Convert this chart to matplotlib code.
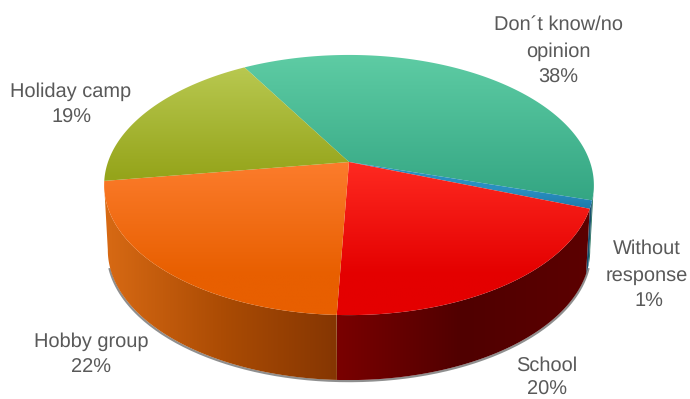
import numpy as np
import matplotlib
matplotlib.use("Agg")
import matplotlib.pyplot as plt
from matplotlib.colors import LinearSegmentedColormap
from matplotlib.patches import Polygon

plt.rcParams['font.family'] = ['Liberation Sans', 'DejaVu Sans']
plt.rcParams['text.hinting'] = 'none'
plt.rcParams['text.hinting_factor'] = 1

#Data
LABELS = ["Don´t know/no\nopinion", "Without\nresponse", "School", "Hobby group", "Holiday camp"]
VALUES = [38, 1, 20, 22, 19]

#Look of each slice, top face runs top to bottom, side runs left to right
TOP_COLORS = [("#5ecca4", "#34a683"), ("#2a8fc0", "#1c78a8"), ("#ff2b22", "#e40000"),
              ("#fc7c2c", "#e85f00"), ("#b8c850", "#95a41a")]
TOP_SPANS = [(55, 200), (190, 210), (160, 275), (162, 275), (68, 178)]
SIDE_COLORS = [("#1f6f58", "#1f6f58"), ("#17506e", "#17506e"), ("#7a0000", "#500000", "#5c0000"),
               ("#d86a14", "#ac4c04", "#853602"), ("#6f7a10", "#6f7a10")]
LABEL_POS = [(558, 38), (647, 262), (547, 366), (91, 342), (71, 92)]
VALUE_POS = [(558, 78), (649, 302), (547, 390), (91, 368), (71, 118)]

#Geometry of the tilted disc, in pixels
CX = 349.0
CY = 162.0
RX = 241.0
RY = 126.0
TILT = 0.177
DEPTH = 65.0
SHRINK = 0.985
START = -30.0
FRONT_FROM = 100.0
FRONT_TO = 260.0


def project(angle):
    # angle in degrees, clockwise from the far side of the disc
    a = np.radians(angle)
    u = np.sin(a)
    v = np.cos(a)
    w = 1 + TILT * v
    return CX + RX * u / w, CY - RY * v / w


def project_bottom(angle):
    x, y = project(angle)
    return CX + SHRINK * (x - CX), y + DEPTH


def gradient(ax, colors, extent, clip, ramp):
    cmap = LinearSegmentedColormap.from_list("g", colors)
    im = ax.imshow(ramp, cmap=cmap, vmin=0, vmax=1, extent=extent, aspect="auto",
                   interpolation="bilinear", zorder=clip.get_zorder())
    im.set_clip_path(clip)


def draw_side(ax, start, end, colors):
    # only the front part of the wall can be seen
    a = max(start, FRONT_FROM)
    b = min(end, FRONT_TO)
    if a >= b:
        return
    t = np.linspace(a, b, 120)
    tx, ty = project(t)
    bx, by = project_bottom(t)
    pts = np.column_stack([np.r_[tx, bx[::-1]], np.r_[ty, by[::-1]]])
    clip = Polygon(pts, closed=True, transform=ax.transData, fc="none", ec="none", zorder=2)
    ax.add_patch(clip)
    extent = (pts[:, 0].min(), pts[:, 0].max(), pts[:, 1].max(), pts[:, 1].min())
    gradient(ax, colors, extent, clip, np.linspace(0, 1, 256).reshape(1, -1))


def draw_top(ax, start, end, colors, span):
    t = np.linspace(start, end, 200)
    x, y = project(t)
    pts = np.column_stack([np.r_[CX, x], np.r_[CY, y]])
    clip = Polygon(pts, closed=True, transform=ax.transData, fc="none", ec="none", zorder=3)
    ax.add_patch(clip)
    # outside the span the face keeps its end colours
    y0 = pts[:, 1].min()
    y1 = pts[:, 1].max()
    rows = np.linspace(y0, y1, 256)
    ramp = np.clip((rows - span[0]) / (span[1] - span[0]), 0, 1).reshape(-1, 1)
    gradient(ax, colors, (pts[:, 0].min(), pts[:, 0].max(), y1, y0), clip, ramp)


def main():
    fig = plt.figure(figsize=(6.9, 3.99), dpi=100)
    ax = fig.add_axes([0, 0, 1, 1])

    values = np.array(VALUES, dtype=float)
    angles = START + np.r_[0, np.cumsum(values)] * 360.0 / values.sum()

    # soft dark edge under the wall
    t = np.linspace(FRONT_FROM + 8, FRONT_TO - 8, 200)
    sx, sy = project_bottom(t)
    ax.plot(sx + 0.5 * np.sign(sx - CX), sy + 1.0, color="#444444", lw=1.6, alpha=0.6, zorder=1)

    for i in range(len(VALUES)):
        draw_side(ax, angles[i], angles[i + 1], SIDE_COLORS[i])
    for i in range(len(VALUES)):
        draw_top(ax, angles[i], angles[i + 1], TOP_COLORS[i], TOP_SPANS[i])

    for i in range(len(VALUES)):
        lx, ly = LABEL_POS[i]
        vx, vy = VALUE_POS[i]
        ax.text(lx, ly, LABELS[i], ha="center", va="center", fontsize=14.5,
                color="#595959", linespacing=1.55, zorder=5)
        ax.text(vx, vy, str(VALUES[i]) + "%", ha="center", va="center", fontsize=14.5,
                color="#595959", zorder=5)

    ax.set_xlim(0, 690)
    ax.set_ylim(399, 0)
    ax.axis("off")
    fig.savefig("out.png", dpi=100)


if __name__ == "__main__":
    main()
